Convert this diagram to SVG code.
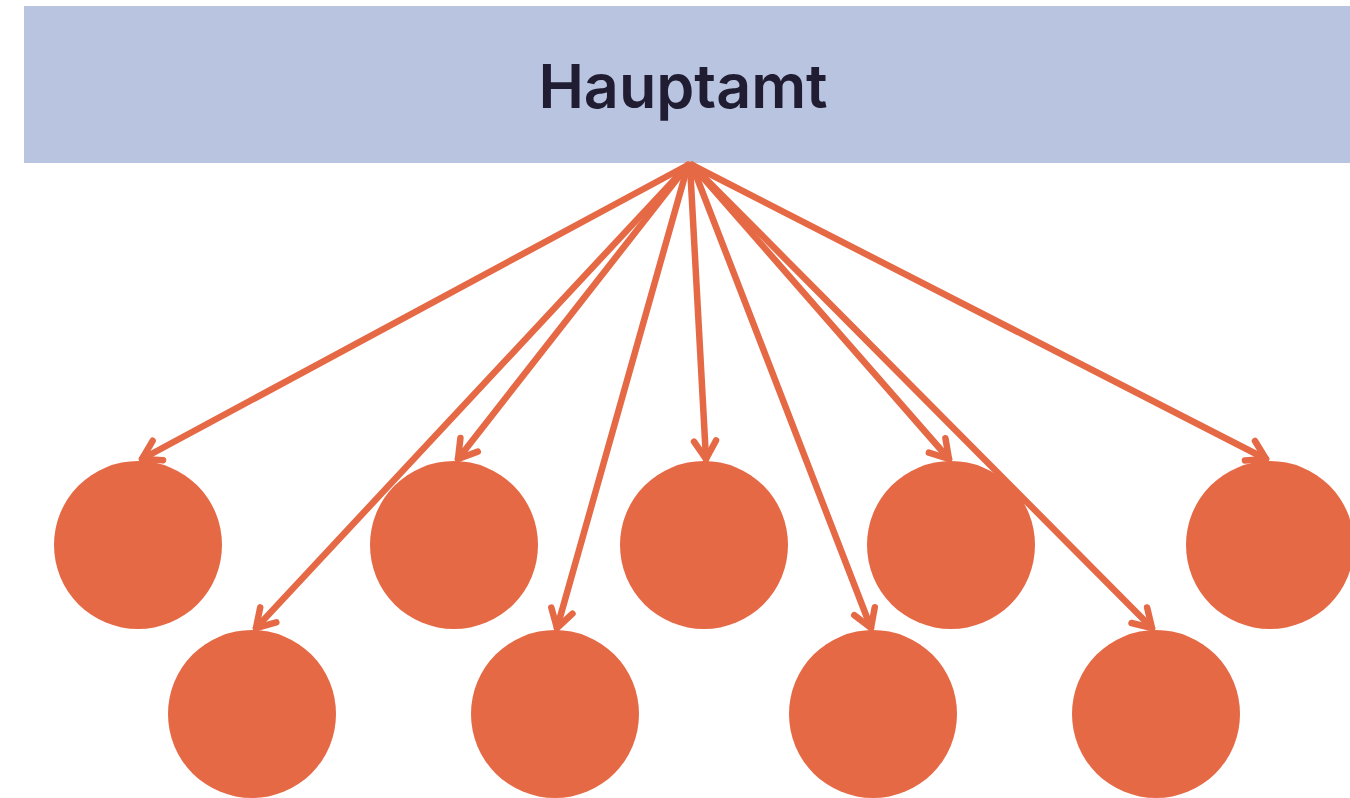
<svg xmlns="http://www.w3.org/2000/svg" width="1350" height="798" viewBox="0 0 1350 798">
<style>
.node{fill:#E66945}
.conn line{stroke:#E66945;stroke-width:6.5;stroke-linecap:round;fill:none}
.head{stroke:#E66945;stroke-width:6.5;stroke-linecap:round;stroke-linejoin:round;fill:none}
.title{font-family:Inter,"Open Sans",sans-serif;font-weight:600;font-size:61px;fill:#201D33}
</style>
<defs>
<marker id="arr" markerUnits="userSpaceOnUse" viewBox="-25 -15 30 30" refX="0" refY="0" markerWidth="30" markerHeight="30" orient="auto" overflow="visible">
<path class="head" d="M-18,-11 L0,0 L-18,11"/>
</marker>
</defs>
<rect width="1350" height="798" fill="#ffffff"/>
<g id="hauptamt">
<rect x="24" y="6" width="1326" height="157" fill="#B8C4E0"/>
<text class="title" x="683" y="108" text-anchor="middle">Hauptamt</text>
</g>
<g id="c1"><circle class="node" cx="138" cy="545" r="84"/></g>
<g id="c2"><circle class="node" cx="454" cy="545" r="84"/></g>
<g id="c3"><circle class="node" cx="704" cy="545" r="84"/></g>
<g id="c4"><circle class="node" cx="951" cy="545" r="84"/></g>
<g id="c5"><circle class="node" cx="1270" cy="545" r="84"/></g>
<g id="c6"><circle class="node" cx="252" cy="714" r="84"/></g>
<g id="c7"><circle class="node" cx="555" cy="714" r="84"/></g>
<g id="c8"><circle class="node" cx="873" cy="714" r="84"/></g>
<g id="c9"><circle class="node" cx="1156" cy="714" r="84"/></g>
<g id="connectors" class="conn">
<line x1="688" y1="165" x2="142" y2="459" marker-end="url(#arr)"/>
<line x1="688" y1="165" x2="458" y2="459" marker-end="url(#arr)"/>
<line x1="690" y1="165" x2="706" y2="459" marker-end="url(#arr)"/>
<line x1="692" y1="165" x2="949" y2="459" marker-end="url(#arr)"/>
<line x1="692" y1="165" x2="1266" y2="459" marker-end="url(#arr)"/>
<line x1="688" y1="165" x2="256" y2="628" marker-end="url(#arr)"/>
<line x1="688" y1="165" x2="557" y2="628" marker-end="url(#arr)"/>
<line x1="692" y1="165" x2="871" y2="628" marker-end="url(#arr)"/>
<line x1="692" y1="165" x2="1152" y2="628" marker-end="url(#arr)"/>
</g>
</svg>
